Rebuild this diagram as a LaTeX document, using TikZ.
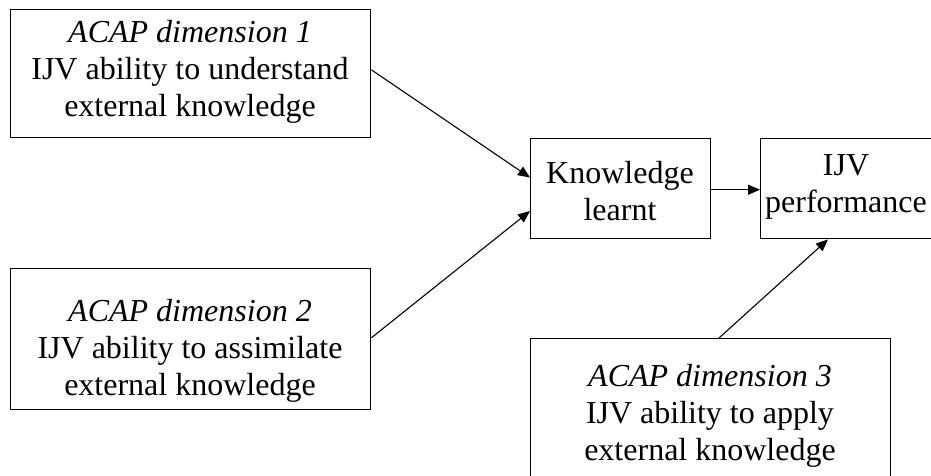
\documentclass[tikz,border=0pt]{standalone}
\usepackage{fontspec}
\setmainfont{Liberation Serif}
\usetikzlibrary{arrows.meta,calc}

\tikzset{
  box/.style={draw=black, line width=1.4pt, rectangle, inner sep=0pt, anchor=north west},
  txt/.style={align=center, inner sep=0pt, font=\fontsize{32}{36.8}\selectfont},
  link/.style={draw=black, line width=1.1pt, -{Triangle[length=12pt,width=10pt]}}
}

\begin{document}
\begin{tikzpicture}[x=1pt, y=-1pt]
  \useasboundingbox (0,0) rectangle (931,475);
  \clip (0,0) rectangle (931,475);

  % boxes
  \node[box, minimum width=360pt, minimum height=128pt] (d1) at (10,9) {};
  \node[box, minimum width=360pt, minimum height=141pt] (d2) at (10,268) {};
  \node[box, minimum width=180pt, minimum height=100pt] (kl) at (530,138) {};
  \node[box, minimum width=175pt, minimum height=100pt] (perf) at (760,138) {};
  \node[box, minimum width=360pt, minimum height=160pt] (d3) at (530,338) {};

  % labels
  \node[txt] (t1) at (190,72) {\textit{ACAP dimension 1}\\IJV ability to understand\\external knowledge};
  \node[txt] (t2) at (190,351) {\textit{ACAP dimension 2}\\IJV ability to assimilate\\external knowledge};
  \node[txt] (tk) at (620,191) {Knowledge\\learnt};
  \node[txt] (tp) at (846,187) {IJV\\performance};
  \node[txt] (t3) at (710,416) {\textit{ACAP dimension 3}\\IJV ability to apply\\external knowledge};

  % connectors
  \draw[link] ($(d1.north east)!0.47!(d1.south east)$) -- ($(kl.north west)!0.39!(kl.south west)$);
  \draw[link] ($(d2.north east)!0.49!(d2.south east)$) -- ($(kl.north west)!0.72!(kl.south west)$);
  \draw[link] ($(kl.north east)!0.51!(kl.south east)$) -- ($(perf.north west)!0.51!(perf.south west)$);
  \draw[link] ($(d3.north west)+(189,0)$) -- ($(perf.south west)+(68,0)$);
\end{tikzpicture}
\end{document}
